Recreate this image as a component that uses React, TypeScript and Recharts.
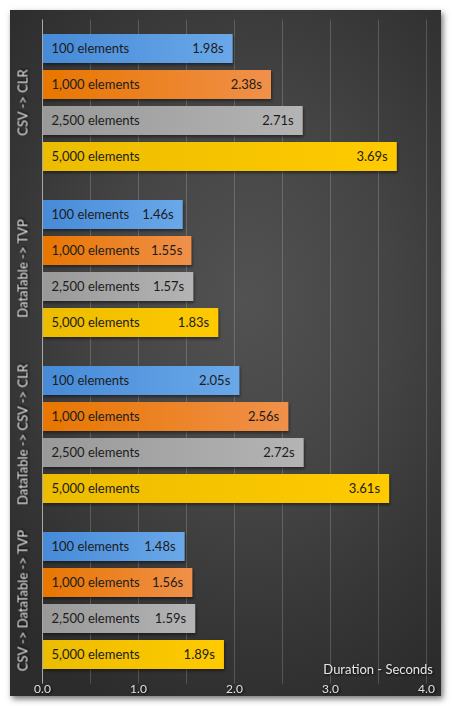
import React from "react";
import {
  Bar,
  BarChart,
  CartesianGrid,
  Label,
  LabelList,
  XAxis,
  YAxis
} from "recharts";

const categories = [
  "CSV -> CLR",
  "DataTable -> TVP",
  "DataTable -> CSV -> CLR",
  "CSV -> DataTable -> TVP"
];
const seriesNames = ["100 elements", "1,000 elements", "2,500 elements", "5,000 elements"];
const values100 = [1.98, 1.46, 2.05, 1.48];
const values1000 = [2.38, 1.55, 2.56, 1.56];
const values2500 = [2.71, 1.57, 2.72, 1.59];
const values5000 = [3.69, 1.83, 3.61, 1.89];
const xTicks = [0, 0.5, 1, 1.5, 2, 2.5, 3, 3.5, 4];
const axisTitle = "Duration - Seconds";

const seriesKeys = ["s100", "s1000", "s2500", "s5000"];
const gradients = [
  ["#468ad8", "#6aa8e8"],
  ["#e87600", "#f0904a"],
  ["#999999", "#b4b4b4"],
  ["#ecbc00", "#ffca00"]
];

const data = categories.map((name, i) => ({
  name,
  s100: values100[i],
  s1000: values1000[i],
  s2500: values2500[i],
  s5000: values5000[i]
}));

const textShadow = { filter: "drop-shadow(1px 1px 1px rgba(0,0,0,0.85))" };

function CategoryTick(props: any) {
  const { y, payload } = props;
  return (
    <text
      x={12}
      y={y}
      transform={`rotate(-90, 12, ${y})`}
      textAnchor="middle"
      dominantBaseline="central"
      fill="#e6e6e6"
      fontSize={13}
      style={textShadow}
    >
      {payload.value}
    </text>
  );
}

function ValueTick(props: any) {
  const { x, y, payload } = props;
  if (payload.value % 1 !== 0) return null;
  return (
    <text
      x={x}
      y={y}
      dy={1}
      textAnchor="middle"
      fill="#e0e0e0"
      fontSize={12}
      style={textShadow}
    >
      {payload.value.toFixed(1)}
    </text>
  );
}

function ShadowBar(props: any) {
  const { x, y, width, height, fill } = props;
  return <rect x={x} y={y} width={width} height={height} fill={fill} filter="url(#barShadow)" />;
}

export default function App() {
  return (
    <div
      style={{
        position: "absolute",
        left: 0,
        top: 0,
        width: 452,
        height: 706,
        background: "#ffffff",
        fontFamily: "Lato, 'Open Sans', sans-serif"
      }}
    >
      <div
        style={{
          position: "absolute",
          left: 10,
          top: 10,
          width: 431,
          height: 686,
          background:
            "radial-gradient(ellipse 75% 65% at 55% 42%, #525252 0%, #444444 45%, #363636 75%, #2c2c2c 100%)",
          boxShadow: "2px 3px 6px rgba(0,0,0,0.55)"
        }}
      >
        <BarChart
          width={431}
          height={686}
          data={data}
          layout="vertical"
          margin={{ top: 9.5, right: 14.5, left: 0, bottom: 0.5 }}
          barCategoryGap={14.5}
          barGap={7}
        >
          <defs>
            {gradients.map(([a, b], i) => (
              <linearGradient key={i} id={`grad${i}`} x1="0" y1="0" x2="1" y2="0">
                <stop offset="0%" stopColor={a} />
                <stop offset="100%" stopColor={b} />
              </linearGradient>
            ))}
            <filter id="barShadow" x="-5%" y="-20%" width="110%" height="150%">
              <feDropShadow dx="1" dy="2" stdDeviation="1.5" floodColor="#000" floodOpacity="0.45" />
            </filter>
          </defs>
          <CartesianGrid
            horizontal={false}
            vertical={true}
            stroke="rgba(255,255,255,0.18)"
          />
          <XAxis
            type="number"
            domain={[0, 4]}
            ticks={xTicks}
            interval={0}
            height={12}
            axisLine={false}
            tickLine={false}
            tick={<ValueTick />}
          >
            <Label
              content={(p: any) => {
                const vb = p.viewBox;
                return (
                  <text
                    x={vb.x + vb.width + 6.5}
                    y={vb.y - 9.5}
                    textAnchor="end"
                    fill="#e6e6e6"
                    fontSize={13}
                    style={textShadow}
                  >
                    {axisTitle}
                  </text>
                );
              }}
            />
          </XAxis>
          <YAxis
            type="category"
            dataKey="name"
            width={32.5}
            axisLine={{ stroke: "#a8a8a8" }}
            tickLine={false}
            tick={<CategoryTick />}
          />
          {seriesKeys.map((k, i) => (
            <Bar
              key={k}
              dataKey={k}
              fill={`url(#grad${i})`}
              shape={<ShadowBar />}
              isAnimationActive={false}
            >
              <LabelList
                dataKey={k}
                position="insideLeft"
                offset={9}
                formatter={() => seriesNames[i]}
                fill="#1c1c1c"
                fontSize={13}
              />
              <LabelList
                dataKey={k}
                position="insideRight"
                offset={9}
                formatter={(v: any) => `${Number(v).toFixed(2)}s`}
                fill="#1c1c1c"
                fontSize={13}
              />
            </Bar>
          ))}
        </BarChart>
      </div>
    </div>
  );
}
